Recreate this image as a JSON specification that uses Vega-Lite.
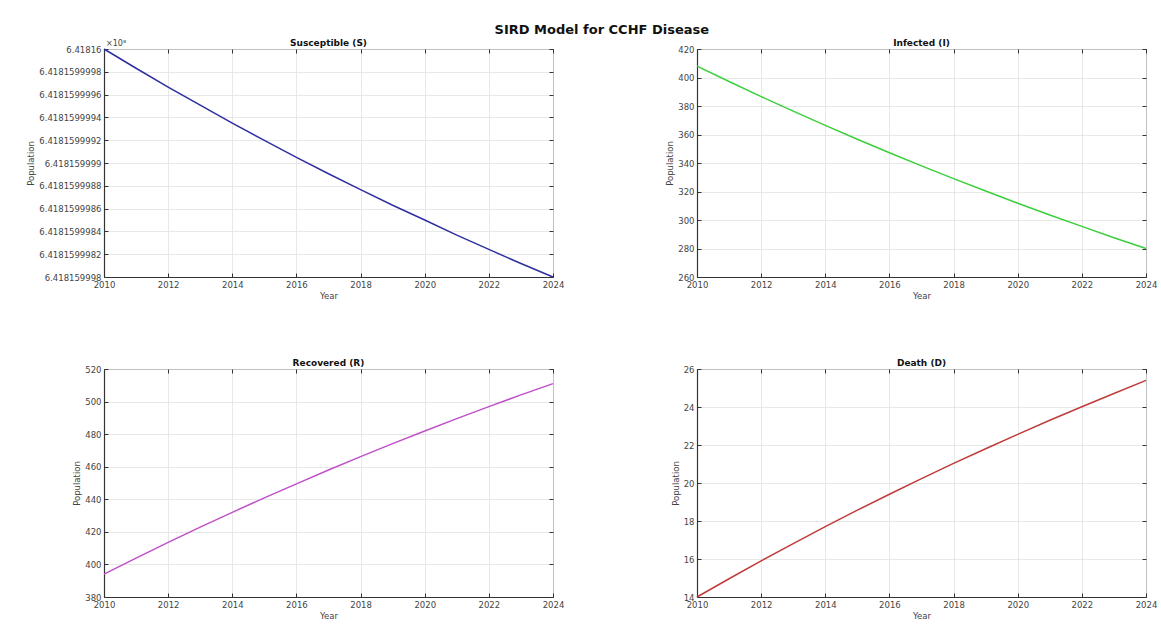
{
  "$schema": "https://vega.github.io/schema/vega-lite/v6.json",
  "padding": {"left": 26, "top": 23, "right": 5, "bottom": 5},
  "background": "white",
  "title": {"text": "SIRD Model for CCHF Disease", "font": "DejaVu Sans", "fontSize": 13, "fontWeight": "bold", "color": "#111", "anchor": "middle", "offset": 2, "dx": 10},
  "data": {"values": [
    {"year": 2010, "S": 641816000, "I": 408.0, "R": 394.0, "D": 14.00},
    {"year": 2011, "S": 641815999.9831, "I": 397.2, "R": 403.9, "D": 14.96},
    {"year": 2012, "S": 641815999.9666, "I": 386.6, "R": 413.5, "D": 15.90},
    {"year": 2013, "S": 641815999.9507, "I": 376.4, "R": 422.9, "D": 16.81},
    {"year": 2014, "S": 641815999.935, "I": 366.4, "R": 432.0, "D": 17.70},
    {"year": 2015, "S": 641815999.9198, "I": 356.7, "R": 440.9, "D": 18.57},
    {"year": 2016, "S": 641815999.905, "I": 347.2, "R": 449.5, "D": 19.41},
    {"year": 2017, "S": 641815999.8906, "I": 338.0, "R": 458.0, "D": 20.23},
    {"year": 2018, "S": 641815999.8766, "I": 329.0, "R": 466.2, "D": 21.03},
    {"year": 2019, "S": 641815999.8629, "I": 320.3, "R": 474.2, "D": 21.80},
    {"year": 2020, "S": 641815999.85, "I": 311.8, "R": 481.9, "D": 22.56},
    {"year": 2021, "S": 641815999.8367, "I": 303.5, "R": 489.5, "D": 23.30},
    {"year": 2022, "S": 641815999.8242, "I": 295.5, "R": 496.9, "D": 24.01},
    {"year": 2023, "S": 641815999.8118, "I": 287.6, "R": 504.1, "D": 24.71},
    {"year": 2024, "S": 641815999.8, "I": 280.0, "R": 511.0, "D": 25.40}
  ]},
  "columns": 2,
  "spacing": {"row": 92, "column": 144},
  "bounds": "flush",
  "concat": [
    {
      "width": 449, "height": 228,
      "title": {"text": "Susceptible (S)", "offset": -8},
      "layer": [
        {
          "mark": {"type": "line", "color": "#2f2fa0", "strokeWidth": 1.5},
          "encoding": {
            "x": {"field": "year", "type": "quantitative", "scale": {"domain": [2010, 2024], "nice": false, "zero": false},
                  "axis": {"values": [2010, 2012, 2014, 2016, 2018, 2020, 2022, 2024], "format": "d", "title": "Year"}},
            "y": {"field": "S", "type": "quantitative", "scale": {"domain": [641815999.8, 641816000], "nice": false, "zero": false},
                  "axis": {"values": [641815999.8, 641815999.82, 641815999.84, 641815999.86, 641815999.88, 641815999.9, 641815999.92, 641815999.94, 641815999.96, 641815999.98, 641816000],
                           "labelExpr": "format(datum.value/1e8, '.11~r')", "title": "Population"}}
          }
        },
        {
          "mark": {"type": "point", "opacity": 0},
          "encoding": {
            "x": {"field": "year", "type": "quantitative", "axis": {"orient": "top", "values": [2010, 2012, 2014, 2016, 2018, 2020, 2022, 2024], "labels": false, "title": null, "grid": false, "domain": false, "labelPadding": 0, "minExtent": 0, "maxExtent": 0}},
            "y": {"field": "S", "type": "quantitative", "axis": {"orient": "right", "values": [641815999.8, 641815999.82, 641815999.84, 641815999.86, 641815999.88, 641815999.9, 641815999.92, 641815999.94, 641815999.96, 641815999.98, 641816000], "labels": false, "title": null, "grid": false, "domain": false, "labelPadding": 0, "minExtent": 0, "maxExtent": 0}}
          }
        },
        {
          "data": {"values": [{"note": "×10⁸"}]},
          "mark": {"type": "text", "align": "left", "baseline": "alphabetic", "dx": 2, "dy": -3, "fontSize": 8, "color": "#444", "font": "DejaVu Sans"},
          "encoding": {
            "x": {"datum": 2010, "type": "quantitative", "axis": null},
            "y": {"datum": 641816000, "type": "quantitative", "axis": null},
            "text": {"field": "note"}
          }
        }
      ],
      "resolve": {"axis": {"x": "independent", "y": "independent"}}
    },
    {
      "width": 449, "height": 228,
      "title": {"text": "Infected (I)", "offset": -3},
      "layer": [
        {
          "mark": {"type": "line", "color": "#3ccf3c", "strokeWidth": 1.5},
          "encoding": {
            "x": {"field": "year", "type": "quantitative", "scale": {"domain": [2010, 2024], "nice": false, "zero": false},
                  "axis": {"values": [2010, 2012, 2014, 2016, 2018, 2020, 2022, 2024], "format": "d", "title": "Year"}},
            "y": {"field": "I", "type": "quantitative", "scale": {"domain": [260, 420], "nice": false, "zero": false},
                  "axis": {"values": [260, 280, 300, 320, 340, 360, 380, 400, 420], "title": "Population"}}
          }
        },
        {
          "mark": {"type": "point", "opacity": 0},
          "encoding": {
            "x": {"field": "year", "type": "quantitative", "axis": {"orient": "top", "values": [2010, 2012, 2014, 2016, 2018, 2020, 2022, 2024], "labels": false, "title": null, "grid": false, "domain": false, "labelPadding": 0, "minExtent": 0, "maxExtent": 0}},
            "y": {"field": "I", "type": "quantitative", "axis": {"orient": "right", "values": [260, 280, 300, 320, 340, 360, 380, 400, 420], "labels": false, "title": null, "grid": false, "domain": false, "labelPadding": 0, "minExtent": 0, "maxExtent": 0}}
          }
        }
      ],
      "resolve": {"axis": {"x": "independent", "y": "independent"}}
    },
    {
      "width": 449, "height": 228,
      "title": {"text": "Recovered (R)", "offset": -3},
      "layer": [
        {
          "mark": {"type": "line", "color": "#c050c8", "strokeWidth": 1.5},
          "encoding": {
            "x": {"field": "year", "type": "quantitative", "scale": {"domain": [2010, 2024], "nice": false, "zero": false},
                  "axis": {"values": [2010, 2012, 2014, 2016, 2018, 2020, 2022, 2024], "format": "d", "title": "Year"}},
            "y": {"field": "R", "type": "quantitative", "scale": {"domain": [380, 520], "nice": false, "zero": false},
                  "axis": {"values": [380, 400, 420, 440, 460, 480, 500, 520], "title": "Population"}}
          }
        },
        {
          "mark": {"type": "point", "opacity": 0},
          "encoding": {
            "x": {"field": "year", "type": "quantitative", "axis": {"orient": "top", "values": [2010, 2012, 2014, 2016, 2018, 2020, 2022, 2024], "labels": false, "title": null, "grid": false, "domain": false, "labelPadding": 0, "minExtent": 0, "maxExtent": 0}},
            "y": {"field": "R", "type": "quantitative", "axis": {"orient": "right", "values": [380, 400, 420, 440, 460, 480, 500, 520], "labels": false, "title": null, "grid": false, "domain": false, "labelPadding": 0, "minExtent": 0, "maxExtent": 0}}
          }
        }
      ],
      "resolve": {"axis": {"x": "independent", "y": "independent"}}
    },
    {
      "width": 449, "height": 228,
      "title": {"text": "Death (D)", "offset": -3},
      "layer": [
        {
          "mark": {"type": "line", "color": "#c03a3a", "strokeWidth": 1.5},
          "encoding": {
            "x": {"field": "year", "type": "quantitative", "scale": {"domain": [2010, 2024], "nice": false, "zero": false},
                  "axis": {"values": [2010, 2012, 2014, 2016, 2018, 2020, 2022, 2024], "format": "d", "title": "Year"}},
            "y": {"field": "D", "type": "quantitative", "scale": {"domain": [14, 26], "nice": false, "zero": false},
                  "axis": {"values": [14, 16, 18, 20, 22, 24, 26], "title": "Population"}}
          }
        },
        {
          "mark": {"type": "point", "opacity": 0},
          "encoding": {
            "x": {"field": "year", "type": "quantitative", "axis": {"orient": "top", "values": [2010, 2012, 2014, 2016, 2018, 2020, 2022, 2024], "labels": false, "title": null, "grid": false, "domain": false, "labelPadding": 0, "minExtent": 0, "maxExtent": 0}},
            "y": {"field": "D", "type": "quantitative", "axis": {"orient": "right", "values": [14, 16, 18, 20, 22, 24, 26], "labels": false, "title": null, "grid": false, "domain": false, "labelPadding": 0, "minExtent": 0, "maxExtent": 0}}
          }
        }
      ],
      "resolve": {"axis": {"x": "independent", "y": "independent"}}
    }
  ],
  "config": {
    "font": "DejaVu Sans",
    "view": {"stroke": "#444", "strokeWidth": 1},
    "title": {"font": "DejaVu Sans", "fontSize": 9, "fontWeight": "bold", "color": "#111", "offset": 3},
    "axis": {
      "labelFont": "DejaVu Sans", "labelFontSize": 8.5, "labelColor": "#444", "labelFlush": false, "labelPadding": 7,
      "titleFont": "DejaVu Sans", "titleFontSize": 8.5, "titleFontWeight": "normal", "titleColor": "#444", "titlePadding": 3,
      "gridColor": "#e2e2e2", "gridWidth": 0.8,
      "domainColor": "#333", "domainWidth": 1.2,
      "tickColor": "#333", "tickSize": -4, "tickWidth": 1
    }
  }
}
